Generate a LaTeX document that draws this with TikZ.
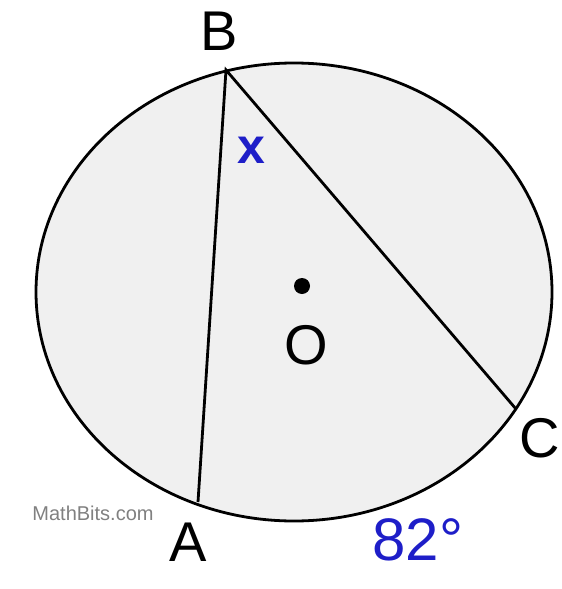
\documentclass[tikz,border=0pt]{standalone}
\usepackage{fontspec}
\setmainfont{Liberation Sans}
\definecolor{diskgray}{RGB}{240,240,240}
\definecolor{labelblue}{RGB}{30,30,200}
\begin{document}
\begin{tikzpicture}[x=1pt,y=-1pt,line width=2.8pt,
  lbl/.style={inner sep=0pt,font=\fontsize{56}{60}\selectfont},
  blue lbl/.style={lbl,text=labelblue}]
\useasboundingbox (0,0) rectangle (562,589);
\draw[fill=diskgray] (294,292) ellipse [x radius=258, y radius=229];
\coordinate (A) at (198,502);
\coordinate (B) at (226,70);
\coordinate (C) at (516,409);
\coordinate (O) at (302,286);
\draw (A) -- (B) -- (C);
\fill (O) circle (8);
\node[lbl] (labB) at (219,31) {B};
\node[lbl] (labA) at (188,542) {A};
\node[lbl] (labC) at (540,438) {C};
\node[lbl] (labO) at (306,345) {O};
\node[blue lbl,font=\fontsize{50}{54}\selectfont\bfseries] (labx) at (251,150) {x};
\node[blue lbl,font=\fontsize{60}{64}\selectfont] (arc) at (418,540) {82°};
\node[inner sep=0pt,text=gray,font=\fontsize{20}{22}\selectfont] (brand) at (93,513) {MathBits.com};
\end{tikzpicture}
\end{document}
